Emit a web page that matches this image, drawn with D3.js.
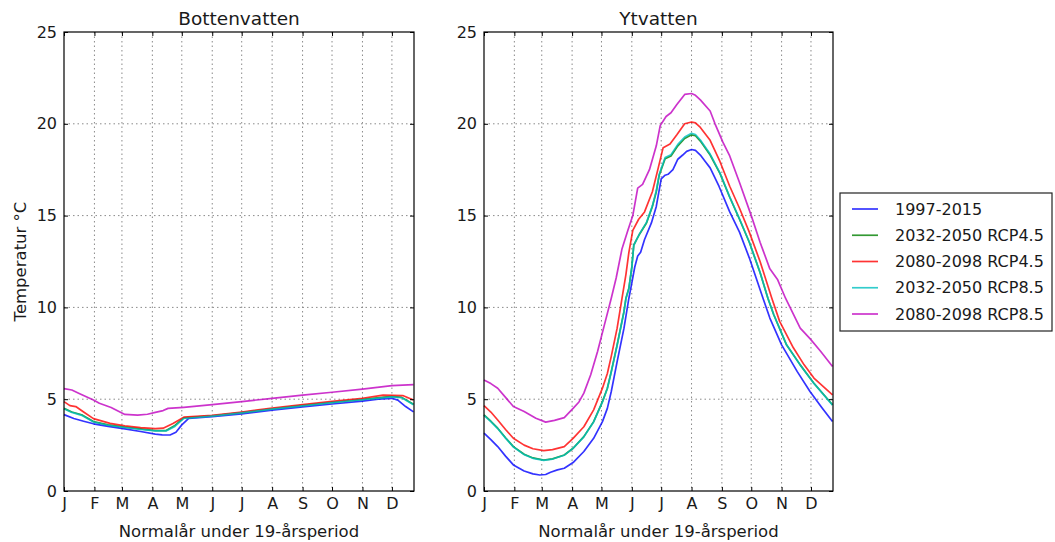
<!DOCTYPE html>
<html><head><meta charset="utf-8">
<script src="https://cdn.jsdelivr.net/npm/d3@7"></script>
<style>
html,body{margin:0;padding:0;background:#fff;}
svg{display:block;font-family:"DejaVu Sans",sans-serif;}
</style></head>
<body>
<svg id="chart" width="1055" height="542"></svg>
<script>
// ---- data (day of year, temperature °C) ----
const monthLabels = ["J","F","M","A","M","J","J","A","S","O","N","D"];
const monthStartDays = [0,31,59,90,120,151,181,212,243,273,304,334];
const yTicks = [0,5,10,15,20,25];
const seriesNames = ["1997-2015","2032-2050 RCP4.5","2080-2098 RCP4.5","2032-2050 RCP8.5","2080-2098 RCP8.5"];
const seriesColors = ["#0000ff","#008000","#ff0000","#00bfbf","#bf00bf"];
const panelTitles = ["Bottenvatten","Ytvatten"];

const botten_1997_2015 = [[0,4.16],[10,3.95],[20,3.8],[30,3.66],[45,3.52],[62,3.38],[78,3.24],[93,3.1],[100,3.06],[108,3.05],[114,3.2],[120,3.6],[127,3.96],[151,4.05],[181,4.2],[212,4.4],[243,4.58],[273,4.74],[304,4.9],[320,5.0],[334,5.05],[340,4.95],[348,4.6],[356,4.31]];
const botten_2032_2050_rcp45 = [[0,4.5],[8,4.3],[18,4.15],[30,3.78],[45,3.6],[62,3.48],[78,3.38],[93,3.29],[104,3.29],[113,3.57],[122,3.98],[151,4.1],[181,4.27],[212,4.48],[243,4.66],[273,4.83],[304,4.99],[334,5.15],[344,5.1],[356,4.72]];
const botten_2080_2098_rcp45 = [[0,4.87],[6,4.65],[12,4.6],[20,4.3],[30,3.94],[47,3.68],[62,3.55],[78,3.45],[93,3.4],[101,3.42],[111,3.68],[122,4.02],[151,4.12],[181,4.3],[212,4.52],[243,4.7],[273,4.88],[304,5.05],[325,5.22],[345,5.2],[356,4.96]];
const botten_2032_2050_rcp85 = [[0,4.48],[8,4.28],[18,4.12],[30,3.76],[45,3.58],[62,3.46],[78,3.35],[93,3.27],[104,3.27],[113,3.52],[122,3.95],[151,4.08],[181,4.25],[212,4.46],[243,4.64],[273,4.81],[304,4.97],[334,5.13],[344,5.08],[356,4.7]];
const botten_2080_2098_rcp85 = [[0,5.58],[8,5.5],[16,5.3],[30,4.96],[36,4.78],[48,4.55],[62,4.17],[75,4.13],[85,4.18],[93,4.28],[101,4.38],[106,4.5],[122,4.56],[151,4.7],[181,4.87],[212,5.05],[243,5.22],[273,5.38],[304,5.55],[334,5.74],[356,5.79]];

const yt_1997_2015 = [[0,3.15],[7,2.8],[14,2.42],[22,1.9],[30,1.42],[41,1.09],[50,0.93],[57,0.87],[63,0.9],[68,1.02],[75,1.15],[82,1.24],[91,1.55],[102,2.15],[112,2.87],[121,3.78],[126,4.5],[130,5.42],[136,7.05],[143,8.87],[148,10.5],[150,11.05],[154,12.2],[157,12.8],[160,13.0],[164,13.7],[171,14.6],[176,15.5],[181,17.0],[185,17.2],[188,17.25],[193,17.5],[198,18.07],[203,18.3],[207,18.5],[212,18.6],[216,18.55],[221,18.3],[226,17.95],[231,17.6],[240,16.6],[251,15.2],[261,14.1],[271,12.7],[278,11.6],[285,10.5],[292,9.42],[304,7.96],[320,6.5],[333,5.42],[345,4.55],[356,3.78]];
const yt_2032_2050_rcp45 = [[0,4.15],[7,3.8],[14,3.42],[22,2.9],[30,2.42],[41,2.0],[50,1.8],[61,1.69],[70,1.75],[82,1.96],[91,2.33],[102,2.96],[112,3.78],[121,4.87],[126,5.6],[130,6.5],[136,7.96],[143,9.78],[145,10.5],[148,11.05],[151,12.2],[153,13.4],[156,13.7],[159,14.0],[166,14.6],[172,15.5],[176,16.3],[179,17.2],[185,18.1],[191,18.25],[198,18.8],[205,19.2],[212,19.4],[216,19.35],[221,19.06],[231,18.3],[241,17.3],[251,16.0],[261,14.8],[271,13.55],[282,11.9],[290,10.5],[296,9.6],[309,7.96],[323,6.87],[337,5.87],[356,4.7]];
const yt_2080_2098_rcp45 = [[0,4.65],[7,4.3],[14,3.87],[22,3.35],[30,2.87],[41,2.5],[50,2.3],[61,2.2],[70,2.25],[82,2.42],[91,2.87],[102,3.5],[112,4.42],[121,5.6],[126,6.4],[130,7.33],[136,8.87],[141,10.5],[145,11.8],[148,13.0],[152,14.2],[158,14.8],[164,15.2],[172,16.3],[178,17.6],[183,18.7],[190,18.9],[197,19.4],[205,20.0],[212,20.1],[216,20.05],[221,19.8],[231,19.1],[241,17.95],[251,16.6],[261,15.4],[271,14.1],[282,12.5],[294,10.5],[302,9.24],[316,7.8],[327,6.87],[337,6.15],[356,5.24]];
const yt_2032_2050_rcp85 = [[0,4.12],[7,3.78],[14,3.4],[22,2.88],[30,2.4],[41,1.98],[50,1.78],[61,1.67],[70,1.74],[82,1.95],[91,2.32],[102,2.95],[112,3.76],[121,4.85],[126,5.58],[130,6.48],[136,7.94],[143,9.76],[145,10.48],[148,11.03],[151,12.18],[153,13.38],[156,13.7],[159,14.02],[166,14.63],[172,15.53],[176,16.35],[179,17.25],[185,18.16],[191,18.32],[198,18.88],[205,19.28],[212,19.48],[216,19.42],[221,19.12],[231,18.35],[241,17.33],[251,16.02],[261,14.82],[271,13.56],[282,11.9],[290,10.5],[296,9.6],[309,7.97],[323,6.86],[337,5.86],[356,4.68]];
const yt_2080_2098_rcp85 = [[0,6.05],[7,5.85],[14,5.6],[22,5.1],[30,4.6],[41,4.33],[53,3.96],[63,3.75],[72,3.85],[82,4.0],[91,4.5],[97,4.85],[102,5.33],[109,6.33],[116,7.6],[123,9.05],[130,10.5],[135,11.6],[141,13.2],[147,14.2],[152,15.0],[157,16.5],[162,16.7],[169,17.5],[176,18.8],[180,19.9],[186,20.4],[191,20.6],[197,21.05],[205,21.6],[212,21.65],[216,21.55],[221,21.3],[231,20.7],[236,20.0],[244,19.0],[251,18.25],[261,16.8],[273,15.0],[282,13.55],[292,12.1],[300,11.5],[308,10.5],[313,9.96],[323,8.87],[333,8.3],[344,7.6],[356,6.78]];

const bottenSeries = [botten_1997_2015, botten_2032_2050_rcp45, botten_2080_2098_rcp45, botten_2032_2050_rcp85, botten_2080_2098_rcp85];
const ytSeries = [yt_1997_2015, yt_2032_2050_rcp45, yt_2080_2098_rcp45, yt_2032_2050_rcp85, yt_2080_2098_rcp85];

// ---- drawing ----
const svg = d3.select("#chart");
const txt = "#1a1a1a";
const panels = [
  {x0:64, x1:414, title:panelTitles[0], series:bottenSeries, ylabel:true},
  {x0:484, x1:833, title:panelTitles[1], series:ytSeries, ylabel:false}
];
const yTop = 32, yBot = 491;
const y = d3.scaleLinear().domain([0,25]).range([yBot,yTop]);

panels.forEach(p => {
  const x = d3.scaleLinear().domain([0,356.5]).range([p.x0,p.x1]);
  const g = svg.append("g");
  // grid
  g.selectAll("line.hg").data(yTicks.filter(t=>t>0&&t<25)).enter().append("line")
    .attr("x1",p.x0).attr("x2",p.x1).attr("y1",d=>y(d)).attr("y2",d=>y(d))
    .attr("stroke","#8a8a8a").attr("stroke-width",1).attr("stroke-dasharray","1.5,3");
  g.selectAll("line.vg").data(monthStartDays.filter(d=>d>0)).enter().append("line")
    .attr("x1",d=>x(d)).attr("x2",d=>x(d)).attr("y1",yTop).attr("y2",yBot)
    .attr("stroke","#8a8a8a").attr("stroke-width",1).attr("stroke-dasharray","1.5,3");
  // lines
  const line = d3.line().x(d=>x(d[0])).y(d=>y(d[1]));
  p.series.forEach((s,i)=>{
    g.append("path").datum(s).attr("d",line).attr("fill","none")
      .attr("stroke",seriesColors[i]).attr("stroke-width",1.7).attr("stroke-opacity",0.8)
      .attr("stroke-linejoin","round");
  });
  // axes
  const ax = (gen, tx, ty, labels) => {
    const a = g.append("g").attr("transform",`translate(${tx},${ty})`).call(gen);
    a.select(".domain").remove();
    a.selectAll(".tick line").attr("stroke","#000");
    a.selectAll("text").attr("fill",txt).style("font-size","16px").style("font-family","DejaVu Sans");
    if(!labels) a.selectAll("text").remove();
    return a;
  };
  ax(d3.axisLeft(y).tickValues(yTicks).tickSize(-4).tickPadding(7).tickFormat(d3.format("d")), p.x0, 0, true);
  ax(d3.axisRight(y).tickValues(yTicks).tickSize(-4), p.x1, 0, false);
  ax(d3.axisBottom(x).tickValues(monthStartDays).tickSize(-4).tickPadding(7).tickFormat((d,i)=>monthLabels[i]), 0, yBot, true);
  ax(d3.axisTop(x).tickValues(monthStartDays).tickSize(-4), 0, yTop, false);
  // frame
  g.append("rect").attr("x",p.x0).attr("y",yTop).attr("width",p.x1-p.x0).attr("height",yBot-yTop)
    .attr("fill","none").attr("stroke","#000").attr("stroke-width",1.2);
  // title
  g.append("text").attr("x",(p.x0+p.x1)/2).attr("y",25).attr("text-anchor","middle")
    .attr("fill",txt).style("font-size","18.5px").text(p.title);
  g.append("text").attr("x",(p.x0+p.x1)/2).attr("y",537).attr("text-anchor","middle")
    .attr("fill",txt).style("font-size","16.5px").text("Normalår under 19-årsperiod");
  if(p.ylabel){
    g.append("text").attr("transform",`translate(26,${(yTop+yBot)/2}) rotate(-90)`).attr("text-anchor","middle")
      .attr("fill",txt).style("font-size","16.5px").text("Temperatur °C");
  }
});

// legend
const lg = svg.append("g");
lg.append("rect").attr("x",840).attr("y",193).attr("width",212).attr("height",138)
  .attr("fill","#fff").attr("stroke","#222").attr("stroke-width",1.2);
const ly = d3.scalePoint().domain(seriesNames).range([209,314]);
seriesNames.forEach((n,i)=>{
  lg.append("line").attr("x1",852).attr("x2",878).attr("y1",ly(n)).attr("y2",ly(n))
    .attr("stroke",seriesColors[i]).attr("stroke-width",1.7).attr("stroke-opacity",0.8);
  lg.append("text").attr("x",895).attr("y",ly(n)).attr("dy","0.35em").attr("fill",txt)
    .style("font-size","16px").text(n);
});
</script>
</body></html>
